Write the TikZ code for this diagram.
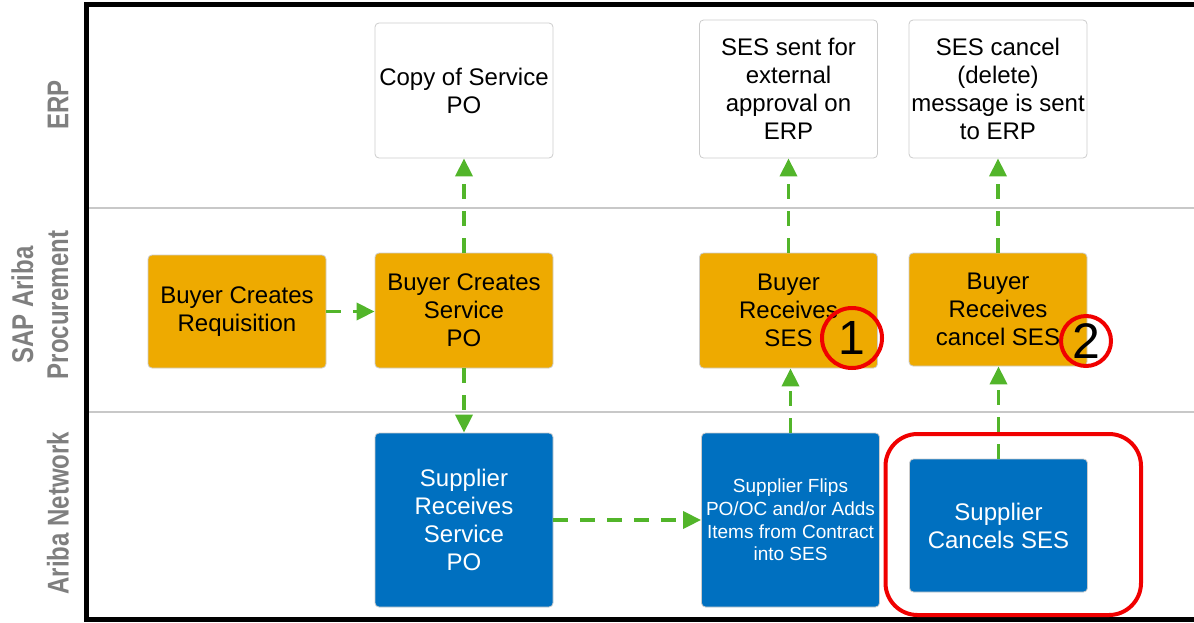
\documentclass[tikz,border=0pt]{standalone}
\usepackage{fontspec}
\setmainfont{Liberation Sans}
\newfontfamily\lanefont[FakeStretch=0.8]{Liberation Sans}
\usetikzlibrary{arrows.meta}

\definecolor{lanegray}{HTML}{7F7F7F}
\definecolor{linegray}{HTML}{C8C8C8}
\definecolor{boxgray}{HTML}{CCCCCC}
\definecolor{sapgold}{HTML}{EEAA00}
\definecolor{netblue}{HTML}{0070C0}
\definecolor{flowgreen}{HTML}{52B52A}
\definecolor{markred}{HTML}{F00000}

\begin{document}
\begin{tikzpicture}[x=0.5pt,y=-0.5pt,
    lane/.style={rotate=90, font=\lanefont\bfseries\fontsize{15}{17.5}\selectfont, text=lanegray, align=center},
    box/.style={rounded corners=2pt, align=center, inner sep=0pt, minimum width=89pt, font=\fontsize{12}{14}\selectfont},
    erpbox/.style={box, draw=boxgray, fill=white},
    aribabox/.style={box, draw=boxgray, fill=sapgold},
    netbox/.style={box, draw=boxgray, fill=netblue, text=white},
    flow/.style={draw=flowgreen, line width=1.8pt, dash pattern=on 7.5pt off 6pt, -{Triangle[length=9pt,width=8.5pt]}},
    marker/.style={circle, draw=markred, line width=2pt, inner sep=0pt}]
    \useasboundingbox (0,0) rectangle (1194,622);

    % lanes
    \draw[linegray, line width=1pt] (89,208) -- (1194,208);
    \draw[linegray, line width=1pt] (89,412) -- (1194,412);
    \draw[line width=2.5pt] (1194,4.5) -- (86.5,4.5) -- (86.5,619.5) -- (1194,619.5);
    \node[lane] (lerp) at (58,105) {ERP};
    \node[lane] (lproc) at (40,305) {SAP Ariba\\Procurement};
    \node[lane] (lnet) at (58,513) {Ariba Network};

    % ERP
    \node[erpbox, minimum height=67.5pt] (copy) at (464,90.5) {Copy of Service\\PO};
    \node[erpbox, minimum height=69pt] (sessent) at (788.5,89) {SES sent for\\external\\approval on\\ERP};
    \node[erpbox, minimum height=69pt] (sescancel) at (998,89) {SES cancel\\(delete)\\message is sent\\to ERP};

    % SAP Ariba Procurement
    \node[aribabox, minimum height=56.5pt] (req) at (237,311.5) {Buyer Creates\\Requisition};
    \node[aribabox, minimum height=57.5pt] (bpo) at (464,310.5) {Buyer Creates\\Service\\PO};
    \node[aribabox, minimum height=57.5pt] (brses) at (788.5,310.5) {Buyer\\Receives\\SES};
    \node[aribabox, minimum height=56.5pt] (brcancel) at (998,309.5) {Buyer\\Receives\\cancel SES};

    % Ariba Network
    \node[netbox, minimum height=87pt] (srpo) at (464,520) {Supplier\\Receives\\Service\\PO};
    \node[netbox, minimum height=87pt, font=\fontsize{9.5}{11.3}\selectfont] (flip) at (790.5,520)
        {Supplier Flips\\PO/OC and/or Adds\\Items from Contract\\into SES};
    \node[netbox, minimum height=66.5pt] (scancel) at (998.5,525.5) {Supplier\\Cancels SES};

    % flows
    \draw[flow] (req.east) -- (bpo.west |- req.east);
    \draw[flow] (bpo) -- (copy);
    \draw[flow] (bpo) -- (srpo);
    \draw[flow] (srpo) -- (flip);
    \draw[flow] (flip.north) -- (flip.north |- brses.south);
    \draw[flow] (brses) -- (sessent);
    \draw[flow] (scancel.north) -- (scancel.north |- brcancel.south);
    \draw[flow] (brcancel) -- (sescancel);

    % highlights
    \draw[markred, line width=2pt, rounded corners=16pt] (885.5,434) rectangle (1141,615);
    \node[marker, minimum size=30pt, font=\fontsize{24}{24}\selectfont] (one) at (852,338) {1};
    \node[marker, minimum size=25pt, font=\fontsize{25}{25}\selectfont] (two) at (1086,341) {2};
\end{tikzpicture}
\end{document}
